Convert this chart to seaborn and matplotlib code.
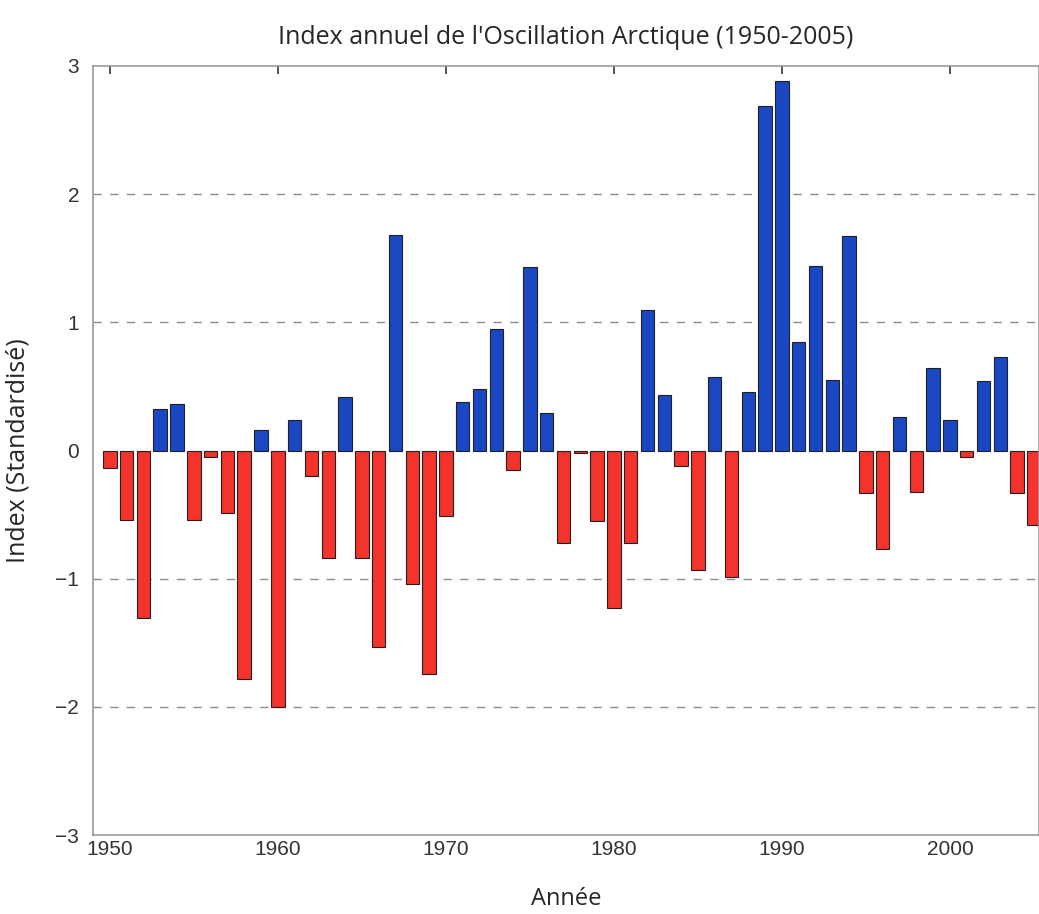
import pandas as pd
import matplotlib
matplotlib.use('Agg')
import matplotlib.pyplot as plt
import seaborn as sns

# années et valeurs
annees = list(range(1950, 2006))
valeurs = [-0.14, -0.54, -1.31, 0.32, 0.36, -0.54, -0.05, -0.49, -1.78, 0.16,
           -2.00, 0.24, -0.20, -0.84, 0.42, -0.84, -1.53, 1.68, -1.04, -1.74,
           -0.51, 0.38, 0.48, 0.95, -0.15, 1.43, 0.29, -0.72, -0.02, -0.55,
           -1.23, -0.72, 1.10, 0.43, -0.12, -0.93, 0.57, -0.99, 0.46, 2.69,
           2.88, 0.85, 1.44, 0.55, 1.67, -0.33, -0.77, 0.26, -0.32, 0.64,
           0.24, -0.05, 0.54, 0.73, -0.33, -0.58]
xticks = [1950, 1960, 1970, 1980, 1990, 2000]
yticks = [-3, -2, -1, 0, 1, 2, 3]
grille = [-2, -1, 1, 2]

df = pd.DataFrame({'Annee': annees, 'Index': valeurs})
df['Signe'] = ['pos' if v > 0 else 'neg' for v in df['Index']]

sns.set_style('white')
plt.rcParams['font.family'] = ['Liberation Sans Narrow', 'Liberation Sans', 'DejaVu Sans']

fig = plt.figure(figsize=(10.39, 9.14), dpi=100)
ax = fig.add_axes([0.0895, 0.0864, 0.9105, 0.8414])

for g in grille:
    ax.axhline(g, linestyle=(0, (6, 6)), color='#8c8c8c', linewidth=1, zorder=0)
sns.barplot(data=df, x='Annee', y='Index', hue='Signe', native_scale=True,
            palette={'pos': '#1a48c4', 'neg': '#f3332c'}, width=0.8, saturation=1,
            edgecolor='#202020', linewidth=0.8, legend=False, ax=ax)

ax.set_xlim(1949, 2005.3)
ax.set_ylim(-3, 3)
ax.set_xticks(xticks)
ax.set_yticks(yticks)
ax.set_yticklabels(['\u22123', '\u22122', '\u22121', '0', '1', '2', '3'])
ax.tick_params(direction='in', length=6, width=1.2, top=True, labelsize=15,
               colors='#333333', labelcolor='#333333')
ax.tick_params(axis='y', length=0, pad=10)
for s in ax.spines.values():
    s.set_color('#999999')
    s.set_linewidth(1.2)

ax.set_title("Index annuel de l'Oscillation Arctique (1950-2005)",
             family=['Open Sans', 'DejaVu Sans'], fontsize=18, pad=16)
ax.set_xlabel('Ann\u00e9e', family=['Open Sans', 'DejaVu Sans'], fontsize=17, labelpad=20)
ax.set_ylabel('Index (Standardis\u00e9)', family=['Open Sans', 'DejaVu Sans'], fontsize=18, labelpad=18)

plt.savefig('out.png', dpi=100)
